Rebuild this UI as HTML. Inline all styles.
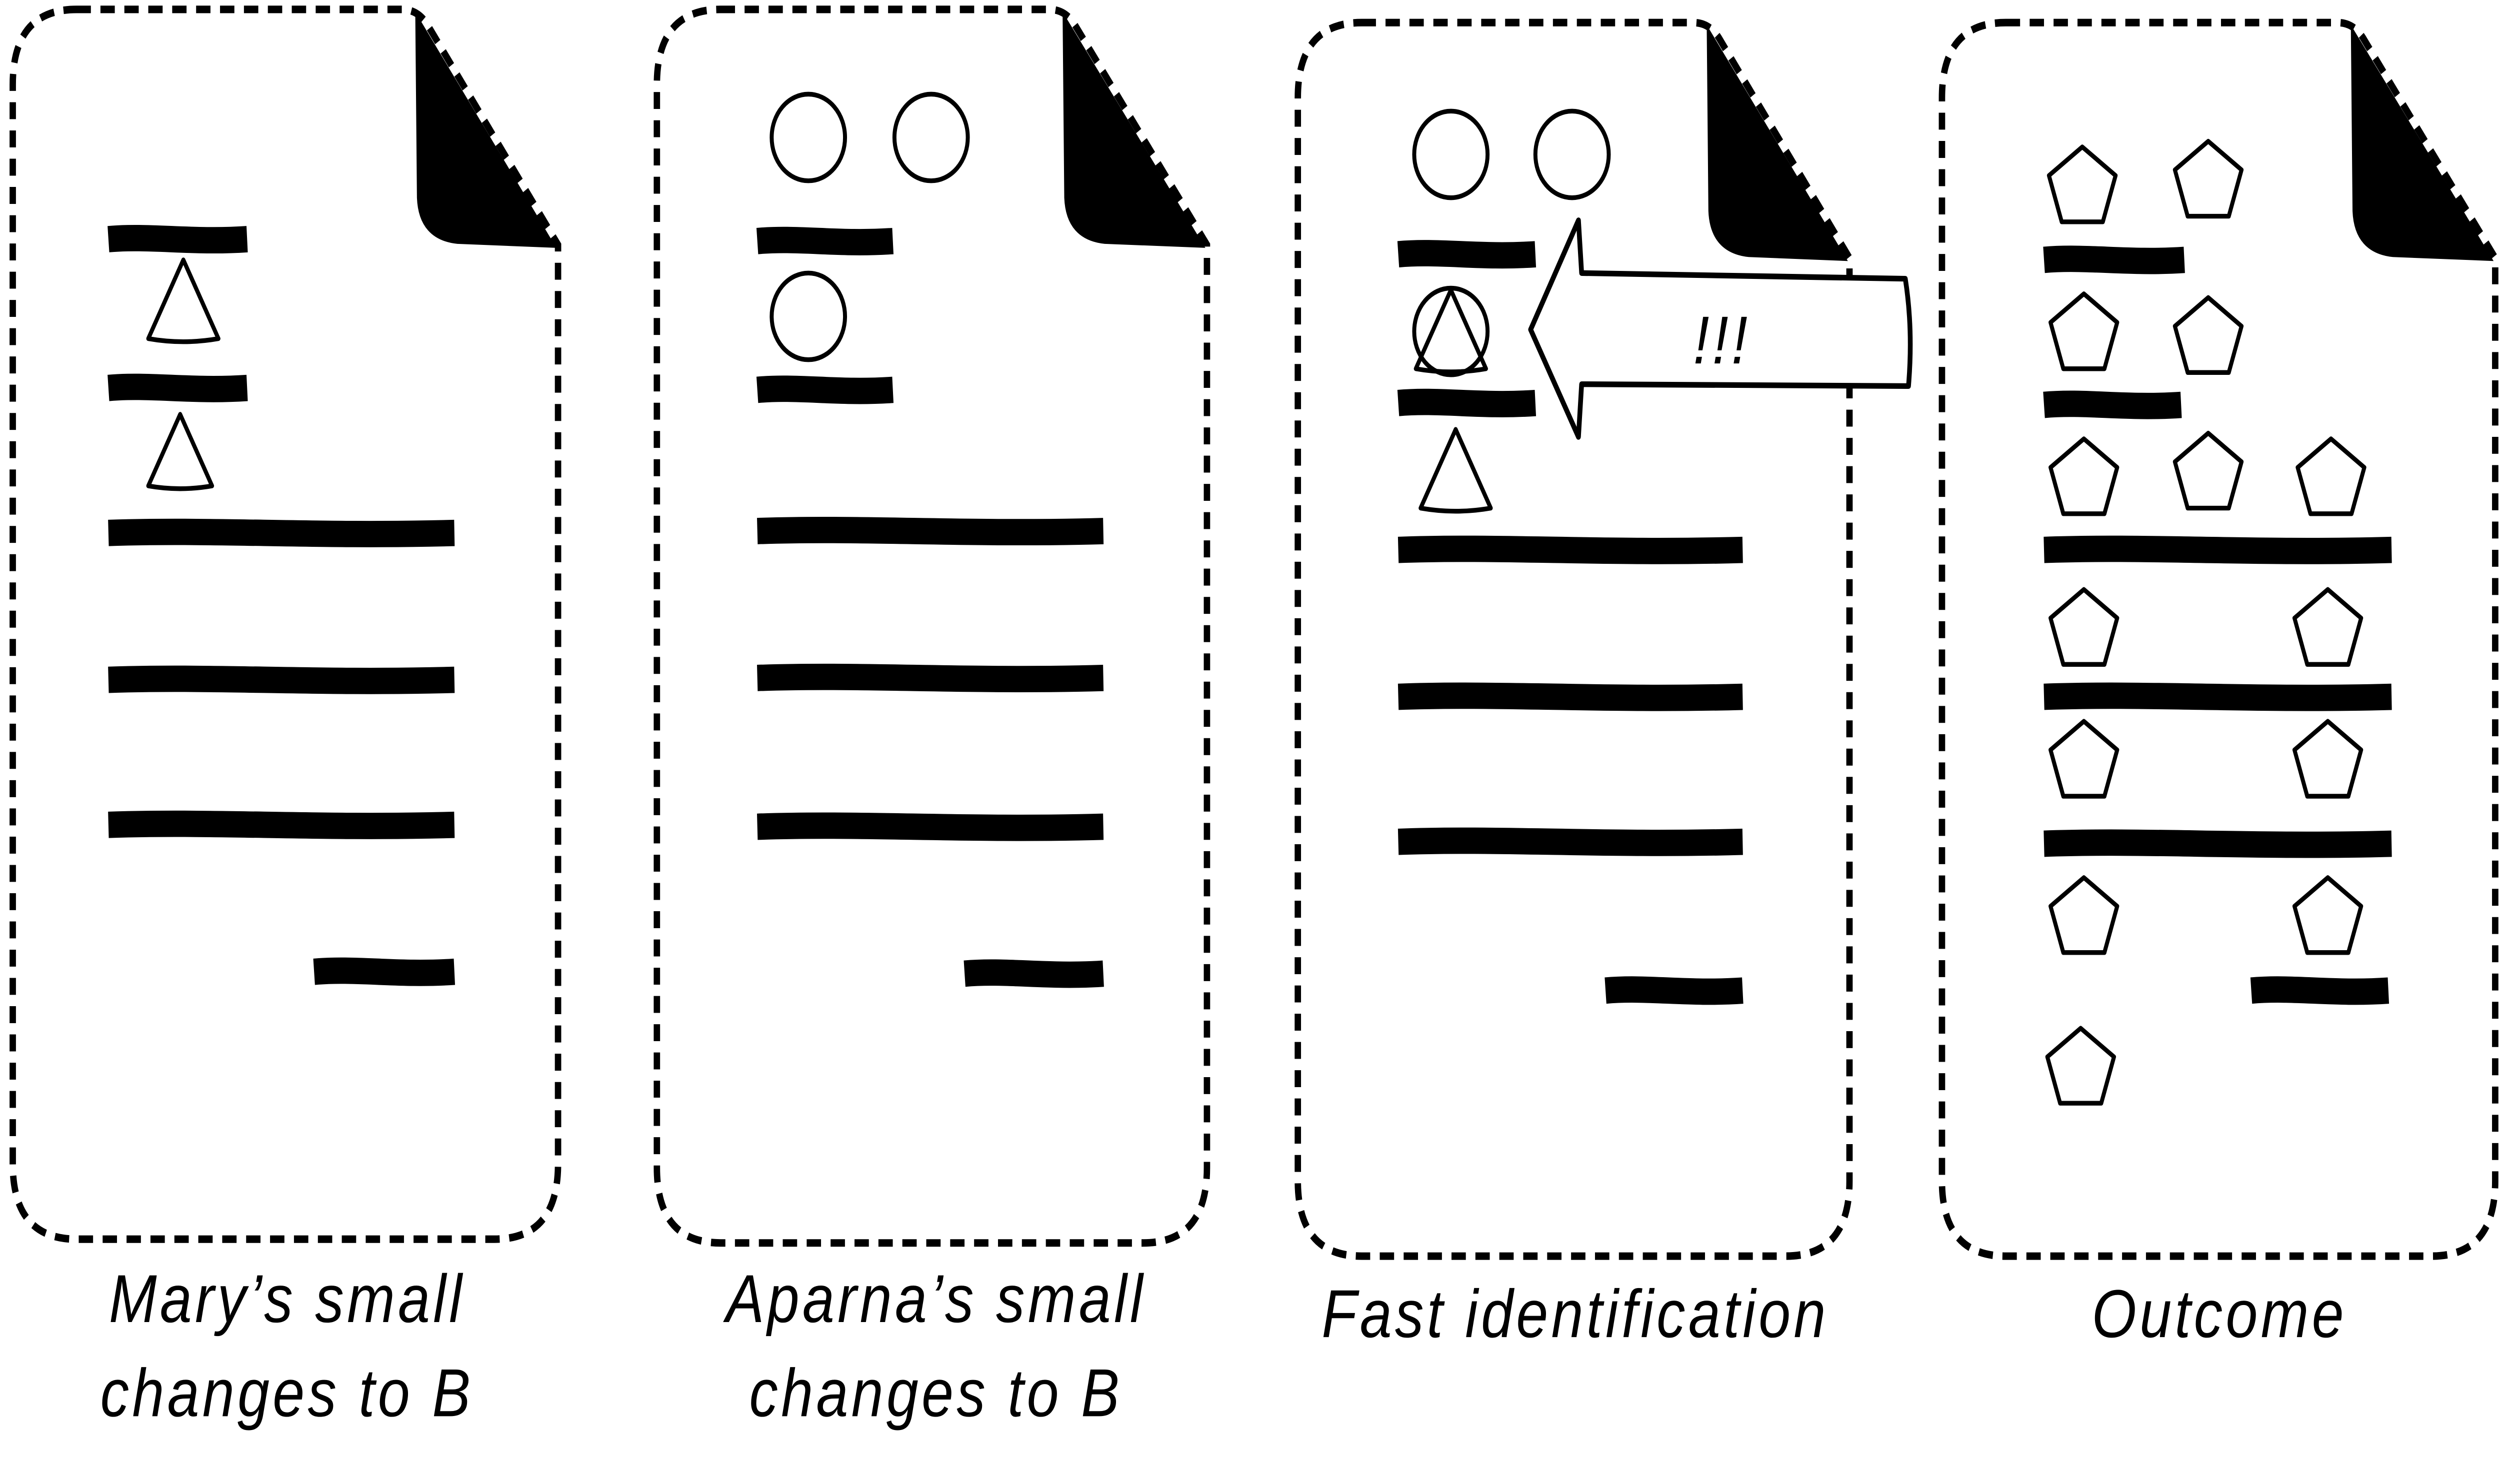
<!DOCTYPE html>
<html><head><meta charset="utf-8"><style>
html,body{margin:0;padding:0;background:#fff;width:100%;height:100%;overflow:hidden;}
svg{display:block;position:absolute;left:0;top:0;width:100vw;height:100vh;}
text{font-family:"Liberation Sans",sans-serif;font-style:italic;font-size:36px;fill:#000;letter-spacing:2px;}
</style></head><body>
<svg viewBox="0 0 1568 788" preserveAspectRatio="none">
<rect width="1568" height="788" fill="#fff"/>
<g id="root" fill="none" stroke="#000"></g>
</svg>
<script>
const NS='http://www.w3.org/2000/svg';
const root=document.getElementById('root');
function el(tag,attrs,name,parent){const e=document.createElementNS(NS,tag);for(const k in attrs)e.setAttribute(k,attrs[k]);


(parent||root).appendChild(e);return e;}
const docs=[
 {x0:8,y0:5,x1:350,y1:658,fold:262,name:'doc-mary'},
 {x0:412,y0:5,x1:757,y1:660,fold:668,name:'doc-aparna'},
 {x0:814,y0:12,x1:1160,y1:667,fold:1072,name:'doc-fast-identification'},
 {x0:1218,y0:12,x1:1565,y1:667,fold:1476,name:'doc-outcome'}
];
docs.forEach(d=>{
 const g=el('g',{},d.name);
 const r=40,fy=d.y0+125;
 el('path',{d:`M${d.x0+r},${d.y0} L${d.fold-10},${d.y0} Q${d.fold},${d.y0} ${d.fold+6},${d.y0+8} L${d.x1},${fy} L${d.x1},${d.y1-r} Q${d.x1},${d.y1} ${d.x1-r},${d.y1} L${d.x0+r},${d.y1} Q${d.x0},${d.y1} ${d.x0},${d.y1-r} L${d.x0},${d.y0+r} Q${d.x0},${d.y0} ${d.x0+r},${d.y0} Z`,
  'stroke-width':4,'stroke-dasharray':'9 6'},'document-outline',g);
 el('path',{d:`M${d.fold},${d.y0+6} L${d.x1-4},${fy} L${d.fold+25},${fy-2} Q${d.fold+2},${fy-4} ${d.fold+1},${fy-25} Z`,fill:'#000',stroke:'#000','stroke-width':3},'folded-corner',g);
});
function bar(x1,x2,y,name){el('path',{d:`M${x1},${y} C${x1+(x2-x1)*0.3},${y-2} ${x1+(x2-x1)*0.6},${y+2} ${x2},${y}`,stroke:'#000','stroke-width':14,'stroke-linecap':'butt'},name||'text-line-bar');}
function circ(cx,cy,r){el('circle',{cx,cy,r:r||23,'stroke-width':2.5},'circle-mark');}
function tri(cx,cy,s){s=s||22;el('path',{d:`M${cx},${cy-s} L${cx+s},${cy+s*0.9} Q${cx},${cy+s*1.05} ${cx-s},${cy+s*0.9} Z`,'stroke-width':2.5,'stroke-linejoin':'round'},'triangle-mark');}
function pent(cx,cy,r){r=r||22;let p='';for(let i=0;i<5;i++){const a=-Math.PI/2+i*2*Math.PI/5;p+=(i?'L':'M')+(cx+r*Math.cos(a)).toFixed(1)+','+(cy+r*Math.sin(a)).toFixed(1);}el('path',{d:p+'Z','stroke-width':2.5,'stroke-linejoin':'round'},'pentagon-mark');}
// doc 1
bar(68,155,127);bar(68,155,206);tri(115,160,22);tri(113,240,20);
bar(68,285,283);bar(68,285,361);bar(68,285,438);bar(197,285,516);
// doc 2
circ(507,73);circ(584,73);circ(507,168);
bar(475,560,128);bar(475,560,207);
bar(475,692,282);bar(475,692,360);bar(475,692,439);bar(605,692,517);
// doc 3
circ(910,82);circ(986,82);circ(910,176);tri(910,176,22);tri(913,250,22);
bar(877,963,135);bar(877,963,214);
bar(877,1093,292);bar(877,1093,370);bar(877,1093,447);bar(1007,1093,526);
el('path',{d:'M960,175 L990,117 L992,145 L1195,148 Q1200,175 1197,205 L992,204 L990,232 Z',fill:'#fff','stroke-width':3,'stroke-linejoin':'round'},'arrow');
// doc 4
bar(1282,1370,138);bar(1282,1368,215);bar(1282,1500,292);bar(1282,1500,370);bar(1282,1500,448);bar(1412,1498,526);
[[1306,100],[1385,97],[1307,178],[1385,180],[1307,255],[1385,252],[1462,255],[1307,335],[1460,335],[1307,405],[1460,405],[1307,488],[1460,488],[1305,568]].forEach(p=>pent(p[0],p[1]));
// labels
const svg=document.querySelector('svg');
function txt(x,y,s,name){const t=el('text',{x,y,'text-anchor':'middle',fill:'#000',stroke:'none'},name,svg);t.textContent=s;}
txt(180,702,"Mary’s small",'caption-mary-line1');txt(180,752,'changes to B','caption-mary-line2');
txt(587,702,"Aparna’s small",'caption-aparna-line1');txt(587,752,'changes to B','caption-aparna-line2');
txt(988,710,'Fast identification','caption-fast-identification');
txt(1392,710,'Outcome','caption-outcome');
const t=el('text',{x:1080,y:193,'text-anchor':'middle',stroke:'none',fill:'#000'},'arrow-label',svg);t.textContent='!!!';
</script>
</body></html>
